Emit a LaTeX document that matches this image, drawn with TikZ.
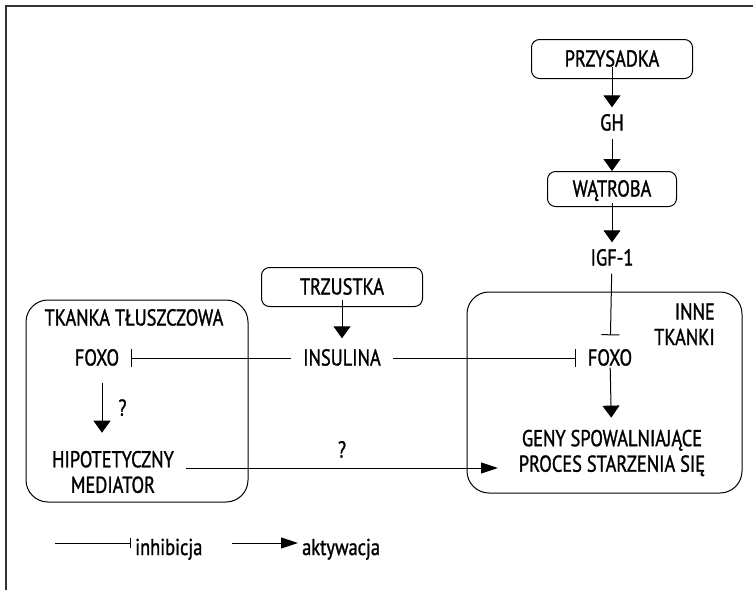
\documentclass[tikz,border=0pt]{standalone}
\usepackage{fontspec}
\setmainfont{PT Sans}[FakeStretch=0.8, FakeBold=1.2]
\usetikzlibrary{arrows.meta}
\newcommand{\fsz}{\fontsize{23}{25.5}\selectfont}
\newcommand{\widthorgan}{161pt}
\newcommand{\heightorgan}{39pt}
\tikzset{
    lbl/.style={font=\fsz, inner xsep=12pt, inner ysep=8pt, align=center},
    word/.style={lbl, text height=15pt, text depth=0pt},
    organ/.style={word, draw, rounded corners=8pt, line width=1pt, minimum width=\widthorgan, minimum height=\heightorgan},
    tissue/.style={draw, rounded corners=22pt, line width=1pt, inner sep=0pt},
    act/.style={draw, line width=1pt, -{Triangle[length=12pt, width=17pt]}},
    acth/.style={draw, line width=1pt, -{Triangle[length=17pt, width=11pt]}},
    inh/.style={draw, line width=1pt, -{Bar[width=18pt]}},
    inhlegend/.style={draw, line width=1pt, -{Bar[width=10pt]}},
    frame/.style={draw, line width=1.4pt, color=black!80}
}
\begin{document}
\begin{tikzpicture}[x=1pt, y=-1pt]
    \useasboundingbox (0,0) rectangle (753,590);
    \draw[frame] (753,6) -- (6,6) -- (6,590);

    % os przysadka - watroba
    \node[organ] (przysadka) at (612,59) {PRZYSADKA};
    \node[word] (gh) at (612,123) {GH};
    \node[organ, minimum width=129pt, minimum height=35pt] (watroba) at (612,189) {WĄTROBA};
    \node[word] (igf) at (612,258) {IGF-1};
    \node[organ] (trzustka) at (342,287) {TRZUSTKA};
    \node[word] (insulina) at (342,358) {INSULINA};

    % tkanki
    \node[tissue, minimum width=222pt, minimum height=202pt] (tkanka) at (137,401) {};
    \node[word] (tkankaT) at (134,318) {TKANKA TŁUSZCZOWA};
    \node[word] (foxoL) at (97,358) {FOXO};
    \node[lbl] (mediator) at (113,472) {HIPOTETYCZNY\\MEDIATOR};

    \node[tissue, minimum width=275pt, minimum height=201pt] (inne) at (604.5,392.5) {};
    \node[lbl, align=right, anchor=north east, inner sep=0pt] (inneT) at (715,303) {INNE\\TKANKI};
    \node[word] (foxoR) at (610,358) {FOXO};
    \node[lbl] (geny) at (612,453) {GENY SPOWALNIAJĄCE\\PROCES STARZENIA SIĘ};

    \draw[act, shorten <=8pt] (przysadka.center) -- (gh);
    \draw[act] (gh) -- (watroba);
    \draw[act, shorten <=14pt] (watroba.center) -- (igf);
    \draw[inh, shorten >=7pt] (igf) -- (foxoR);
    \draw[act, shorten <=-6pt, shorten >=4pt] (foxoR) -- (geny);
    \draw[act, shorten <=13pt, shorten >=4pt] (trzustka.center) -- (insulina);
    \draw[inh] (insulina) -- (foxoL);
    \draw[inh] (insulina) -- (foxoR);
    \draw[act, shorten <=9pt, shorten >=10pt] ([xshift=5pt]foxoL.south) -- ([xshift=5pt]foxoL.south |- mediator.north)
        node[word, midway, right, xshift=4pt] (q1) {?};
    \coordinate (gin) at (498,468);
    \draw[acth] (mediator.east |- gin) -- (gin)
        node[word, midway, above, yshift=2pt] (q2) {?};

    % legenda
    \coordinate (inhS) at (55,543);
    \node[lbl, anchor=base west, inner xsep=4pt, inner ysep=0pt] (inhT) at (131,555) {inhibicja};
    \draw[inhlegend] (inhS) -- (inhS -| inhT.west);
    \coordinate (actS) at (232,543);
    \node[lbl, anchor=base west, inner xsep=4pt, inner ysep=0pt] (actT) at (298,555) {aktywacja};
    \draw[acth] (actS) -- (actS -| actT.west);
\end{tikzpicture}
\end{document}
